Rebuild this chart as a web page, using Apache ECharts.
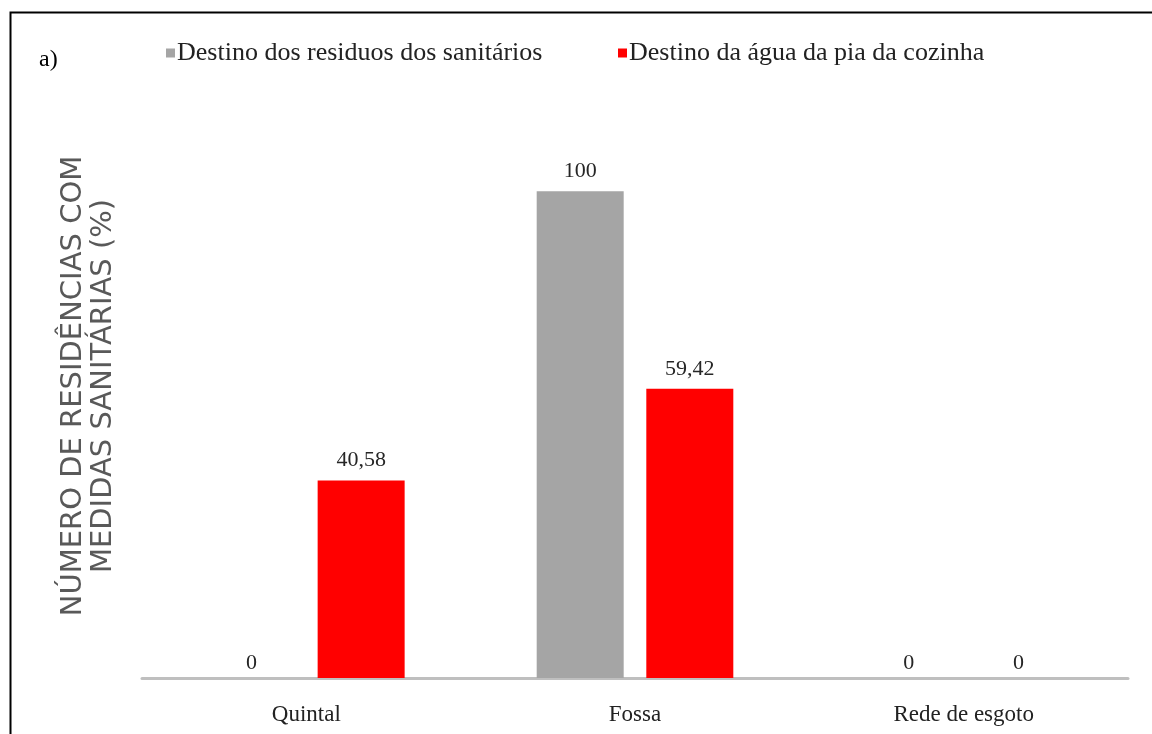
<!DOCTYPE html>
<html>
<head>
<meta charset="utf-8">
<script src="https://cdn.jsdelivr.net/npm/echarts@6/dist/echarts.min.js"></script>
<style>
html,body{margin:0;padding:0;background:#fff;}
#chart{width:1152px;height:734px;}
</style>
</head>
<body>
<div id="chart"></div>
<script>
const categories = ['Quintal', 'Fossa', 'Rede de esgoto'];
const seriesNames = ['Destino dos residuos dos sanitários', 'Destino da água da pia da cozinha'];
const residuosSanitarios = [0, 100, 0];
const aguaPiaCozinha = [40.58, 59.42, 0];
const yAxisTitle = 'NÚMERO DE RESIDÊNCIAS COM\nMEDIDAS SANITÁRIAS (%)';
const panelLabel = 'a)';

const serif = '"Liberation Serif", "Times New Roman", serif';
const fmt = p => String(p.value).replace('.', ',');
const withLabelOffset = arr => arr.map(v => v === 0 ? { value: v, label: { distance: 4 } } : v);

const labelStyle = { show: true, position: 'top', distance: 9, formatter: fmt,
                     fontFamily: serif, fontSize: 22, color: '#262626' };

const chart = echarts.init(document.getElementById('chart'));
chart.setOption({
  animation: false,
  backgroundColor: '#ffffff',
  graphic: [
    { type: 'rect', left: 8, top: 10, shape: { width: 1200, height: 800 },
      style: { fill: 'none', stroke: '#000000', lineWidth: 2 } },
    { type: 'text', left: 39, top: 48,
      style: { text: panelLabel, font: '24px ' + serif, fill: '#000000' } }
  ],
  legend: [
    { data: [seriesNames[0]], left: 161, top: 35, itemWidth: 9, itemHeight: 9, icon: 'rect',
      itemGap: 4, textStyle: { fontFamily: serif, fontSize: 26, color: '#222222', padding: [0,0,0,-3] } },
    { data: [seriesNames[1]], left: 613, top: 35, itemWidth: 9, itemHeight: 9, icon: 'rect',
      itemGap: 4, textStyle: { fontFamily: serif, fontSize: 26, color: '#222222', padding: [0,0,0,-3] } }
  ],
  grid: { left: 142, right: 24, top: 94, bottom: 56, containLabel: false },
  xAxis: {
    type: 'category',
    data: categories,
    axisLine: { show: true, lineStyle: { color: '#BFBFBF', width: 3 } },
    axisTick: { show: false },
    axisLabel: { fontFamily: serif, fontSize: 23, color: '#222222', margin: 25 }
  },
  yAxis: {
    type: 'value',
    min: 0, max: 120, interval: 20,
    axisLine: { show: false },
    axisTick: { show: false },
    axisLabel: { show: false },
    splitLine: { show: false },
    name: yAxisTitle,
    nameLocation: 'middle',
    nameGap: 24,
    nameTextStyle: { fontFamily: '"DejaVu Sans", sans-serif', fontSize: 29, color: '#595959', lineHeight: 30, align: 'center' }
  },
  series: [
    { name: seriesNames[0], type: 'bar', data: withLabelOffset(residuosSanitarios), barWidth: 87, barGap: '26%',
      itemStyle: { color: '#A5A5A5' }, label: labelStyle },
    { name: seriesNames[1], type: 'bar', data: withLabelOffset(aguaPiaCozinha), barWidth: 87,
      itemStyle: { color: '#FF0000' }, label: labelStyle }
  ]
});
</script>
</body>
</html>
